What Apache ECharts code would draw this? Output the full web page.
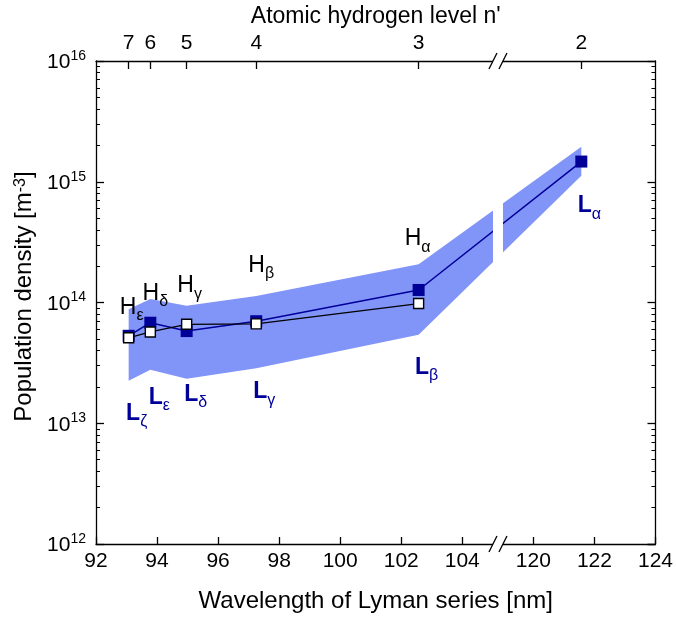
<!DOCTYPE html>
<html><head><meta charset="utf-8">
<script src="https://cdn.jsdelivr.net/npm/echarts@6/dist/echarts.min.js"></script>
<style>html,body{margin:0;padding:0;background:#fff}#c{width:676px;height:618px}</style>
</head><body><div id="c"></div>
<script>
// ---- data ----
const levels = ['7', '6', '5', '4', '3', '2'];                 // upper level n'
const wavelengths = [93.07, 93.78, 94.97, 97.25, 102.57, 121.57]; // Lyman lines [nm]
const lymanDensity = [5.3e13, 6.8e13, 5.8e13, 7.0e13, 1.27e14, 1.47e15];
const balmerDensity = [5.1e13, 5.7e13, 6.6e13, 6.65e13, 9.8e13];
const bandUpper = [8.8e13, 1.07e14, 9.4e13, 1.13e14, 2.07e14, 1.95e15];
const bandLower = [2.25e13, 2.77e13, 2.34e13, 2.85e13, 5.4e13, 1.12e15];
const lymanNames = ['ζ', 'ε', 'δ', 'γ', 'β', 'α'];
const balmerNames = ['ε', 'δ', 'γ', 'β', 'α'];
const xTickLabels = [92, 94, 96, 98, 100, 102, 104, 120, 122, 124];
const yMinorFactors = [2, 3, 4, 5, 6, 7, 8, 9];
const yDecades = [12, 13, 14, 15];

// ---- axis break (104.x .. 119.x nm compressed) ----
const BREAK_SHIFT = 13.67;
const BREAK_POS = 105.17;
const bx = l => (l > 110 ? l - BREAK_SHIFT : l);
const unbx = v => (v > BREAK_POS ? v + BREAK_SHIFT : v);

// ---- styles ----
const FONT = 'Liberation Sans, Arial, sans-serif';
const BLUE = '#000099';
const BAND = '#8194f8';
const lymanOffsets = [[8, 86], [9, 83], [9, 72], [8, 79], [8, 86], [8, 53]];
const balmerOffsets = [[3, -22], [5, -30], [3, -30], [5, -50], [-1, -56]];

const minorTicks = [];
yDecades.forEach(d => yMinorFactors.forEach(f => minorTicks.push(f * Math.pow(10, d))));

function subRich(color, bold) {
  return {
    m: { fontSize: 23, lineHeight: 20, verticalAlign: 'top', color, fontFamily: FONT, fontWeight: bold ? 'bold' : 'normal' },
    s: { fontSize: 16, lineHeight: 40, color, fontFamily: FONT, fontWeight: 'normal' }
  };
}

const axisLine = { show: true, lineStyle: { color: '#000', width: 1.3 } };
const yLabelRich = {
  b: { fontSize: 21, lineHeight: 24, verticalAlign: 'bottom', fontFamily: FONT, color: '#000' },
  s: { fontSize: 14, lineHeight: 14, verticalAlign: 'top', fontFamily: FONT, color: '#000' }
};

const logAxisBase = { type: 'log', logBase: 10, min: 1e12, max: 1e16, splitLine: { show: false } };

const option = {
  animation: false,
  backgroundColor: '#fff',
  grid: { left: 96, right: 19, top: 59, bottom: 74 },
  xAxis: [
    {
      type: 'value', min: 92, max: bx(124), position: 'bottom',
      axisLine, splitLine: { show: false },
      axisTick: { inside: true, length: 7, customValues: xTickLabels.map(bx), lineStyle: { color: '#000', width: 1.3 } },
      axisLabel: { customValues: xTickLabels.map(bx), margin: 7, fontSize: 21, fontFamily: FONT, color: '#000',
        formatter: v => String(Math.round(unbx(v))) },
      name: 'Wavelength of Lyman series [nm]', nameLocation: 'middle', nameGap: 45,
      nameTextStyle: { fontSize: 24, fontFamily: FONT, color: '#000' }
    },
    {
      type: 'value', min: 92, max: bx(124), position: 'top',
      axisLine, splitLine: { show: false },
      axisTick: { inside: true, length: 8, customValues: wavelengths.map(bx), lineStyle: { color: '#000', width: 1.3 } },
      axisLabel: { customValues: wavelengths.map(bx), margin: 7, fontSize: 21, fontFamily: FONT, color: '#000',
        formatter: v => { let bi = 0; wavelengths.forEach((l, i) => { if (Math.abs(bx(l) - v) < Math.abs(bx(wavelengths[bi]) - v)) bi = i; }); return levels[bi]; } },
      name: "Atomic hydrogen level n'", nameLocation: 'middle', nameGap: 33,
      nameTextStyle: { fontSize: 23, fontFamily: FONT, color: '#000' }
    }
  ],
  yAxis: [
    Object.assign({}, logAxisBase, {
      position: 'left', axisLine,
      axisTick: { inside: true, length: 8, lineStyle: { color: '#000', width: 1.3 } },
      axisLabel: { margin: 10, formatter: v => '{b|10}{s|' + Math.round(Math.log10(v)) + '}', rich: yLabelRich },
      name: 'Population density [m{s|-3}]', nameLocation: 'middle', nameGap: 59, nameRotate: 90,
      nameTextStyle: { fontSize: 24, fontFamily: FONT, color: '#000', padding: [0, 0, 0, 12],
        rich: { s: { fontSize: 16, verticalAlign: 'top', lineHeight: 18, fontFamily: FONT, color: '#000' } } }
    }),
    Object.assign({}, logAxisBase, {
      position: 'left', axisLine: { show: false }, axisLabel: { show: false },
      axisTick: { inside: true, length: 4, customValues: minorTicks, lineStyle: { color: '#000', width: 1 } }
    }),
    Object.assign({}, logAxisBase, {
      position: 'right', axisLine, axisLabel: { show: false },
      axisTick: { inside: true, length: 8, lineStyle: { color: '#000', width: 1.3 } }
    }),
    Object.assign({}, logAxisBase, {
      position: 'right', axisLine: { show: false }, axisLabel: { show: false },
      axisTick: { inside: true, length: 4, customValues: minorTicks, lineStyle: { color: '#000', width: 1 } }
    })
  ],
  series: [
    {
      name: 'band', type: 'custom', z: 1, silent: true,
      data: [[bx(wavelengths[0]), bandUpper[0]]],
      renderItem: (params, api) => {
        const pts = [];
        wavelengths.forEach((l, i) => pts.push(api.coord([bx(l), bandUpper[i]])));
        for (let i = wavelengths.length - 1; i >= 0; i--) pts.push(api.coord([bx(wavelengths[i]), bandLower[i]]));
        return { type: 'polygon', shape: { points: pts }, style: { fill: BAND } };
      }
    },
    {
      name: 'Lyman', type: 'line', z: 3,
      symbol: 'rect', symbolSize: 12,
      itemStyle: { color: BLUE },
      lineStyle: { color: BLUE, width: 1.5 },
      data: wavelengths.map((l, i) => ({
        value: [bx(l), lymanDensity[i]],
        label: { show: true, position: 'inside', offset: lymanOffsets[i],
          formatter: '{m|L}{s|' + lymanNames[i] + '}', rich: subRich(BLUE, true) }
      }))
    },
    {
      name: 'Balmer', type: 'line', z: 4,
      symbol: 'rect', symbolSize: 10,
      itemStyle: { color: '#fff', borderColor: '#000', borderWidth: 1.4 },
      lineStyle: { color: '#000', width: 1.3 },
      data: balmerDensity.map((v, i) => ({
        value: [bx(wavelengths[i]), v],
        label: { show: true, position: 'inside', offset: balmerOffsets[i],
          formatter: '{m|H}{s|' + balmerNames[i] + '}', rich: subRich('#000', false) }
      }))
    },
    {
      name: 'axisBreak', type: 'custom', z: 10, silent: true,
      data: [[BREAK_POS, 1e14]],
      renderItem: (params, api) => {
        const top = api.coord([api.value(0), 1e16]);
        const bot = api.coord([api.value(0), 1e12]);
        const x = top[0];
        const children = [{ type: 'rect', shape: { x: x - 5, y: top[1] - 2, width: 10, height: bot[1] - top[1] + 4 }, style: { fill: '#fff' } }];
        [top[1], bot[1]].forEach(y => {
          [-5, 5].forEach(dx => children.push({ type: 'line',
            shape: { x1: x + dx - 4, y1: y + 8, x2: x + dx + 4, y2: y - 8 },
            style: { stroke: '#000', lineWidth: 1.3 } }));
        });
        return { type: 'group', children };
      }
    }
  ]
};

const chart = echarts.init(document.getElementById('c'), null, { renderer: 'canvas' });
chart.setOption(option);
</script>
</body></html>
